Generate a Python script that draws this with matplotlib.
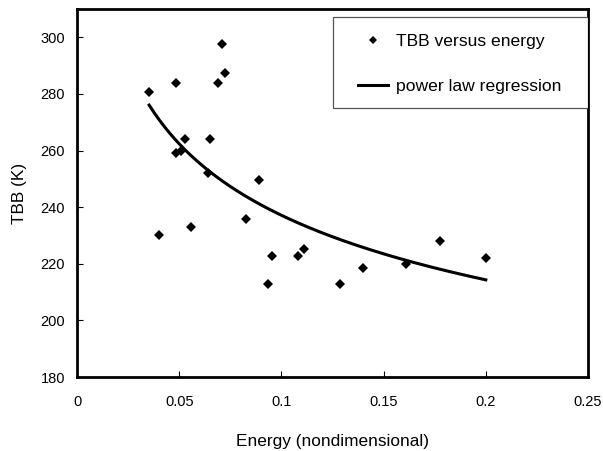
import numpy as np
import matplotlib
matplotlib.use('Agg')
import matplotlib.pyplot as plt
from matplotlib.patches import Rectangle

plt.rcParams['font.family'] = ['Liberation Sans', 'DejaVu Sans']

# TBB vs energy
energy = [0.0353, 0.0482, 0.0711, 0.0722, 0.0690, 0.0529, 0.0650, 0.0484,
          0.0507, 0.0639, 0.0889, 0.0402, 0.0557, 0.0827, 0.0954, 0.0933,
          0.1080, 0.1112, 0.1287, 0.1398, 0.1610, 0.1777, 0.2000]
tbb = [280.7, 283.8, 297.8, 287.4, 283.9, 264.1, 264.1, 259.0,
       259.9, 252.0, 249.5, 230.1, 233.0, 236.0, 222.9, 212.8,
       222.9, 225.4, 212.8, 218.6, 219.9, 228.0, 222.2]

xticks = [0, 0.05, 0.1, 0.15, 0.2, 0.25]
xticklabels = ['0', '0.05', '0.1', '0.15', '0.2', '0.25']
yticks = [180, 200, 220, 240, 260, 280, 300]

# power law trend line, fitted like Excel does (log-log least squares)
b, lna = np.polyfit(np.log(energy), np.log(tbb), 1)
xfit = np.linspace(min(energy), max(energy), 200)
yfit = np.exp(lna) * xfit ** b

fig = plt.figure(figsize=(6.03, 4.51), dpi=100)
ax = fig.add_axes([0.1277, 0.164, 0.8474, 0.816])

ax.plot(energy, tbb, 'D', color='black', markersize=5.4, markeredgewidth=0,
        label='TBB versus energy', linestyle='none')
ax.plot(xfit, yfit, color='black', linewidth=2.2, label='power law regression')

ax.set_xlim(0, 0.25)
ax.set_ylim(180, 310)
ax.set_xticks(xticks)
ax.set_xticklabels(xticklabels)
ax.set_yticks(yticks)
ax.tick_params(axis='both', direction='in', length=4, width=0.8, labelsize=10.5)
ax.tick_params(axis='x', pad=13)
ax.tick_params(axis='y', pad=8.5)
for sp in ax.spines.values():
    sp.set_linewidth(2.0)

ax.set_xlabel('Energy (nondimensional)', fontsize=12.4, labelpad=18)
ax.set_ylabel('TBB (K)', fontsize=12.4, labelpad=10)

# legend box drawn by hand so the entries sit inset like the original
ax.add_patch(Rectangle((0.501, 0.731), 0.499, 0.248, transform=ax.transAxes,
                       facecolor='white', edgecolor='#555555', linewidth=0.9,
                       zorder=4))
leg = ax.legend(loc='upper left', bbox_to_anchor=(0.532, 0.957), frameon=False,
                fontsize=12.6, handlelength=1.75, handletextpad=0.45,
                labelspacing=1.7, borderpad=0, markerscale=0.7)
leg.set_zorder(5)

fig.savefig('out.png', dpi=100)
